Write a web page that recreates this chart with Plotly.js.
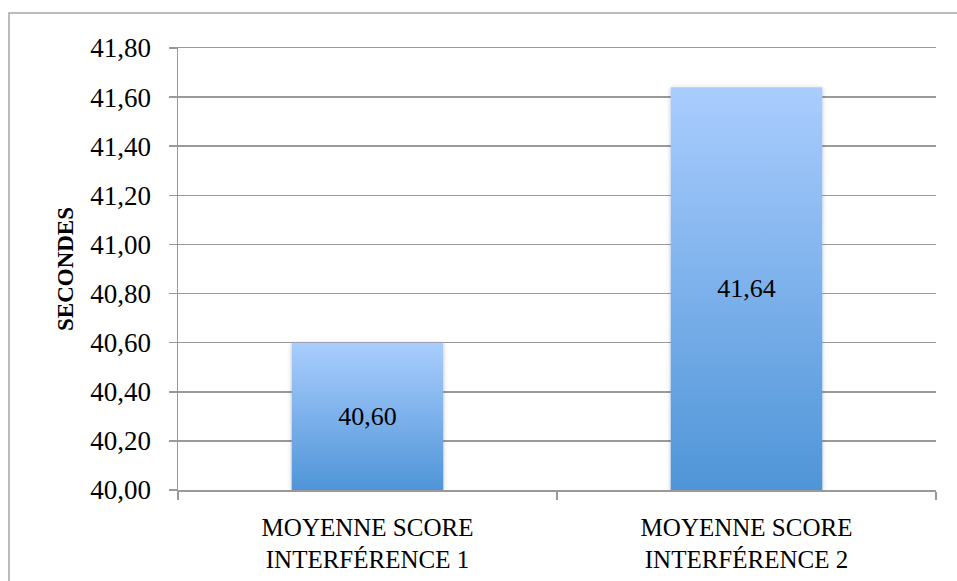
<!DOCTYPE html>
<html>
<head>
<meta charset="utf-8">
<script src="https://cdn.plot.ly/plotly-3.0.1.min.js"></script>
<style>
html,body{margin:0;padding:0;background:#fff;}
#chart{width:957px;height:581px;}
</style>
</head>
<body>
<div id="chart"></div>
<script>
const categories = ["MOYENNE SCORE<br>INTERFÉRENCE 1", "MOYENNE SCORE<br>INTERFÉRENCE 2"];
const values = [40.60, 41.64];
const yTitle = "SECONDES";
const yMin = 40.0;
const yMax = 41.8;
const yTicks = [40.0, 40.2, 40.4, 40.6, 40.8, 41.0, 41.2, 41.4, 41.6, 41.8];

const serif = "Liberation Serif";

const trace = {
  type: "bar",
  x: categories,
  y: values.map(v => v - yMin),
  base: yMin,
  customdata: values,
  width: 0.4,
  marker: {color: "#7FB0EC", line: {width: 0}},
  texttemplate: "%{customdata:.2f}",
  textposition: "inside",
  insidetextanchor: "middle",
  textangle: 0,
  textfont: {family: serif, size: 26, color: "#000"},
  hoverinfo: "none"
};

const layout = {
  width: 957, height: 581,
  margin: {l: 178, r: 21, t: 48, b: 91},
  paper_bgcolor: "#fff", plot_bgcolor: "#fff",
  separators: ",.",
  showlegend: false,
  font: {family: serif, color: "#000"},
  xaxis: {
    type: "category",
    showgrid: false,
    showline: true, mirror: true, linecolor: "#999", linewidth: 1.5,
    ticks: "outside", tickson: "boundaries", ticklen: 8, tickcolor: "#999", tickwidth: 1.5,
    ticklabelstandoff: 14,
    tickfont: {family: serif, size: 25, color: "#000"},
    fixedrange: true
  },
  yaxis: {
    range: [yMin, yMax],
    tickvals: yTicks,
    tickformat: ".2f",
    showgrid: true, gridcolor: "#999", gridwidth: 1.5,
    showline: true, linecolor: "#999", linewidth: 1.5,
    ticks: "outside", ticklen: 8, tickcolor: "#999", tickwidth: 1.5,
    ticklabelstandoff: 12,
    tickfont: {family: serif, size: 27, color: "#000"},
    zeroline: false,
    title: {text: "<b>" + yTitle + "</b>", font: {family: serif, size: 23, color: "#000"}, standoff: 10},
    fixedrange: true
  },
  shapes: [{
    type: "rect", xref: "paper", yref: "paper",
    x0: -169/758, x1: 1.2, y0: -0.5, y1: 1 + 35/442,
    line: {color: "#a6a6a6", width: 1.5}, fillcolor: "rgba(0,0,0,0)", layer: "below"
  }]
};

Plotly.newPlot("chart", [trace], layout, {displayModeBar: false, staticPlot: true}).then(gd => {
  const svg = gd.querySelector(".main-svg");
  const ns = "http://www.w3.org/2000/svg";
  let defs = svg.querySelector("defs");
  if (!defs) { defs = document.createElementNS(ns, "defs"); svg.insertBefore(defs, svg.firstChild); }
  const grad = document.createElementNS(ns, "linearGradient");
  grad.setAttribute("id", "barGrad");
  grad.setAttribute("x1", "0"); grad.setAttribute("y1", "0");
  grad.setAttribute("x2", "0"); grad.setAttribute("y2", "1");
  [["0%", "#AACDFE"], ["100%", "#4F95D8"]].forEach(([o, c]) => {
    const s = document.createElementNS(ns, "stop");
    s.setAttribute("offset", o); s.setAttribute("stop-color", c);
    grad.appendChild(s);
  });
  defs.appendChild(grad);
  const filt = document.createElementNS(ns, "filter");
  filt.setAttribute("id", "barShadow");
  filt.setAttribute("x", "-10%"); filt.setAttribute("y", "-10%");
  filt.setAttribute("width", "120%"); filt.setAttribute("height", "120%");
  const ds = document.createElementNS(ns, "feDropShadow");
  ds.setAttribute("dx", "0"); ds.setAttribute("dy", "1");
  ds.setAttribute("stdDeviation", "2"); ds.setAttribute("flood-color", "#000");
  ds.setAttribute("flood-opacity", "0.25");
  filt.appendChild(ds);
  defs.appendChild(filt);
  gd.querySelectorAll(".bars .point path").forEach(p => {
    p.style.fill = "url(#barGrad)";
    p.setAttribute("filter", "url(#barShadow)");
  });
});
</script>
</body>
</html>
